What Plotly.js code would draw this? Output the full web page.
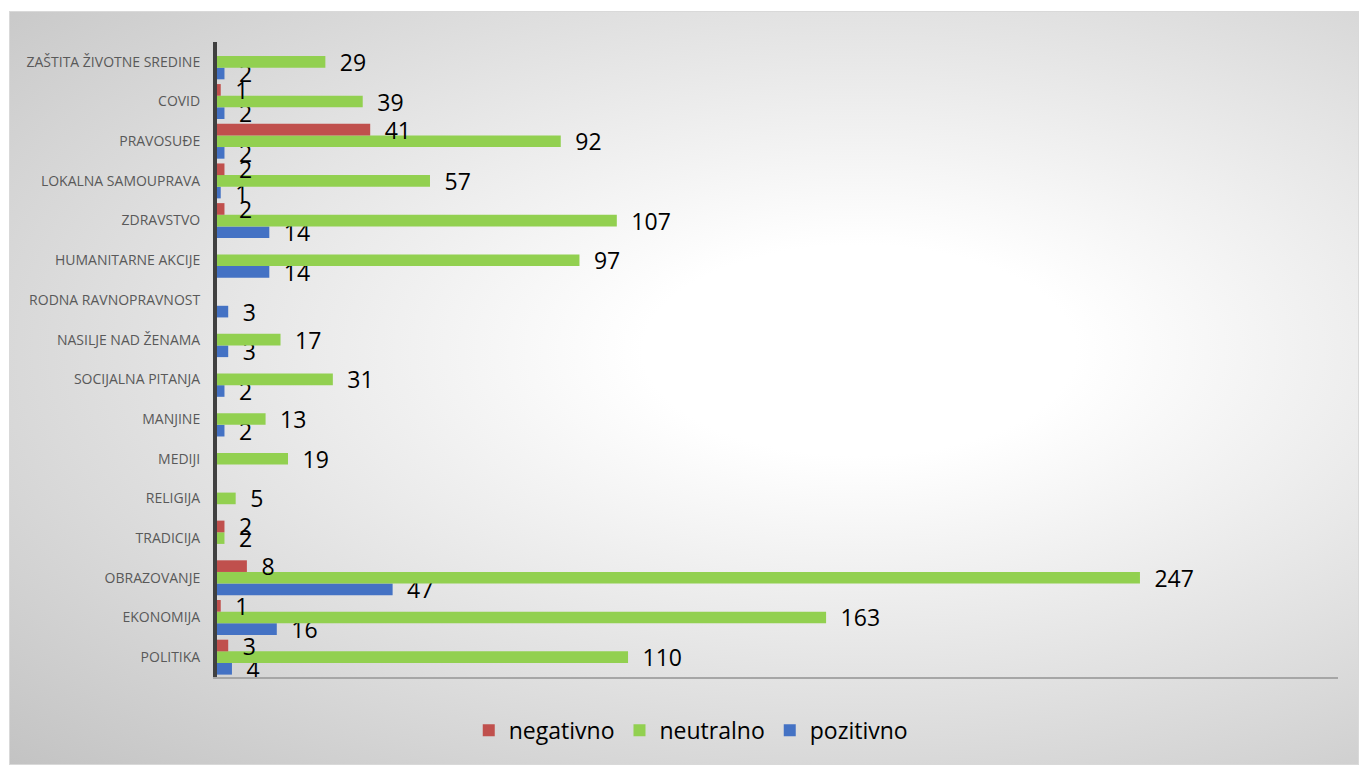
<!DOCTYPE html>
<html>
<head>
<meta charset="utf-8">
<script src="https://cdn.plot.ly/plotly-3.0.1.min.js"></script>
<style>
  html, body { margin: 0; padding: 0; background: #ffffff; width: 1359px; height: 765px; overflow: hidden; }
  #frame {
    position: absolute; left: 9px; top: 11px; width: 1350px; height: 754px;
    box-sizing: border-box; border: 1px solid #d9d9d9;
    background: radial-gradient(ellipse farthest-corner at 63% 45%, #ffffff 0%, #ffffff 18%, #e4e4e4 55%, #c3c3c3 100%);
  }
  #chart { position: absolute; left: 9px; top: 11px; width: 1350px; height: 754px; }
</style>
</head>
<body>
<div id="frame"></div>
<div id="chart"></div>
<script>
const categories = [
  'POLITIKA', 'EKONOMIJA', 'OBRAZOVANJE', 'TRADICIJA', 'RELIGIJA', 'MEDIJI',
  'MANJINE', 'SOCIJALNA PITANJA', 'NASILJE NAD ŽENAMA', 'RODNA RAVNOPRAVNOST',
  'HUMANITARNE AKCIJE', 'ZDRAVSTVO', 'LOKALNA SAMOUPRAVA', 'PRAVOSUĐE', 'COVID',
  'ZAŠTITA ŽIVOTNE SREDINE'
];
const negativno = [3, 1, 8, 2, null, null, null, null, null, null, null, 2, 2, 41, 1, null];
const neutralno = [110, 163, 247, 2, 5, 19, 13, 31, 17, null, 97, 107, 57, 92, 39, 29];
const pozitivno = [4, 16, 47, null, null, null, 2, 2, 3, 3, 14, 14, 1, 2, 2, 2];

const labelFont = { family: 'Open Sans, sans-serif', size: 23, color: '#000000' };

function series(name, values, color) {
  return {
    type: 'bar', orientation: 'h', name: name,
    y: categories, x: values,
    marker: { color: color },
    texttemplate: '\u2002%{x}', textposition: 'outside',
    cliponaxis: false, constraintext: 'none',
    outsidetextfont: labelFont, textfont: labelFont,
    hoverinfo: 'x+name'
  };
}

const data = [
  series('pozitivno', pozitivno, '#4472C4'),
  series('neutralno', neutralno, '#92D050'),
  series('negativno', negativno, '#C0504D')
];

const layout = {
  width: 1350, height: 754,
  paper_bgcolor: 'rgba(0,0,0,0)', plot_bgcolor: 'rgba(0,0,0,0)',
  margin: { l: 208, r: 21, t: 31, b: 88, pad: 0 },
  barmode: 'group', bargap: 0.12, bargroupgap: 0,
  showlegend: true,
  legend: {
    orientation: 'h', traceorder: 'reversed',
    xref: 'container', yref: 'container',
    x: 0.505, xanchor: 'center', y: 0.046, yanchor: 'middle',
    font: { family: 'Open Sans, sans-serif', size: 23, color: '#000000' },
    bgcolor: 'rgba(0,0,0,0)'
  },
  xaxis: {
    range: [0, 300], showticklabels: false, showgrid: false, zeroline: false,
    showline: true, linecolor: '#a6a6a6', linewidth: 1.5, ticks: ''
  },
  yaxis: {
    type: 'category', showgrid: false, zeroline: false,
    showline: true, linecolor: '#404040', linewidth: 4, ticks: '',
    ticklabelstandoff: 10,
    tickfont: { family: 'Open Sans, sans-serif', size: 14, color: '#595959' }
  },
  font: { family: 'Open Sans, sans-serif' }
};

Plotly.newPlot('chart', data, layout, { displayModeBar: false, staticPlot: true });
</script>
</body>
</html>
